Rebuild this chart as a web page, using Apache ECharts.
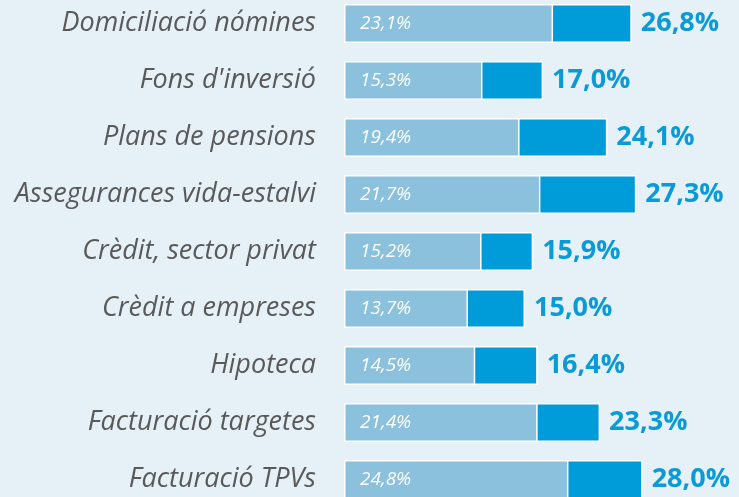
<!DOCTYPE html>
<html>
<head>
<meta charset="utf-8">
<script src="https://cdn.jsdelivr.net/npm/echarts@6/dist/echarts.min.js"></script>
<style>
  html, body { margin: 0; padding: 0; background: #e6f0f7; }
  #chart { width: 739px; height: 497px; }
</style>
</head>
<body>
<div id="chart"></div>
<script>
// categories, top to bottom
var categories = ['Domiciliació nómines', "Fons d'inversió", 'Plans de pensions', 'Assegurances vida-estalvi',
  'Crèdit, sector privat', 'Crèdit a empreses', 'Hipoteca', 'Facturació targetes', 'Facturació TPVs'];
var baseValues = [23.1, 15.3, 19.4, 21.7, 15.2, 13.7, 14.5, 21.4, 24.8];   // light segment
var totalValues = [26.8, 17.0, 24.1, 27.3, 15.9, 15.0, 16.4, 23.3, 28.0];  // dark segment end

function fmt(v) {
  return v.toFixed(1).replace('.', ',') + '%';
}

var myChart = echarts.init(document.getElementById('chart'));
var option = {
  backgroundColor: '#e6f0f7',
  animation: false,
  grid: { left: 344, right: 33, top: -5, height: 513, outerBoundsMode: 'none' },
  xAxis: [
    { type: 'value', min: 0, max: 40, show: false },
    // dark bars sit on a shifted scale, same px per unit
    { type: 'value', min: -5, max: 35, show: false }
  ],
  yAxis: {
    type: 'category',
    inverse: true,
    data: categories,
    axisLine: { show: false },
    axisTick: { show: false },
    axisLabel: {
      margin: 28,
      color: '#595959',
      fontFamily: 'Open Sans',
      fontStyle: 'italic',
      fontSize: 27
    }
  },
  series: [
    {
      name: 'total',
      type: 'bar',
      xAxisIndex: 1,
      data: totalValues,
      barWidth: 39,
      barGap: '-100%',
      z: 1,
      itemStyle: { color: '#009bd9', borderColor: '#ffffff', borderWidth: 1.5 },
      label: {
        show: true,
        position: 'right',
        distance: 9,
        color: '#0a9ad6',
        fontFamily: 'Open Sans',
        fontWeight: 'bold',
        fontSize: 27,
        formatter: function (p) { return fmt(p.value); }
      }
    },
    {
      name: 'base',
      type: 'bar',
      xAxisIndex: 0,
      data: baseValues,
      barWidth: 39,
      barGap: '-100%',
      z: 2,
      itemStyle: { color: '#8bc1dd', borderColor: '#ffffff', borderWidth: 1.5 },
      label: {
        show: true,
        position: 'insideLeft',
        distance: 16,
        color: '#ffffff',
        fontFamily: 'Open Sans',
        fontStyle: 'italic',
        fontSize: 19,
        formatter: function (p) { return fmt(p.value); }
      }
    }
  ]
};
myChart.setOption(option);
</script>
</body>
</html>
